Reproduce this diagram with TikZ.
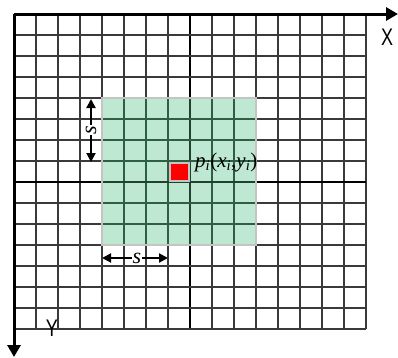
\documentclass[tikz,border=0pt]{standalone}
\usepackage{fontspec}
\setmainfont{Liberation Serif}
\newfontfamily\axfont{Liberation Sans}
\usetikzlibrary{arrows.meta}
\definecolor{gridc}{HTML}{3A3A3A}
\definecolor{greenfill}{HTML}{BEE8D2}
\definecolor{greenline}{HTML}{2F5F42}
\definecolor{bordergrey}{HTML}{C4C4C4}
\tikzset{
  gridline/.style={draw=gridc, line width=1.1},
  centerline/.style={draw=black, line width=1.9},
  gline/.style={draw=greenline, line width=1.1},
  gcenter/.style={draw=greenline!70!black, line width=1.9},
  axisline/.style={draw=black, line width=3, -{Triangle[length=12, width=13]}},
  sarrow/.style={draw=black, line width=2, {Triangle[length=9, width=9]}-{Triangle[length=9, width=9]}},
  slabel/.style={fill=white, inner sep=0.5, font=\fontsize{22}{22}\selectfont\itshape},
  axlabel/.style={inner sep=0, font=\axfont\fontsize{24}{24}\selectfont, xscale=0.75},
}
\begin{document}
\begin{tikzpicture}[x=1pt,y=-1pt]
\useasboundingbox (0,0) rectangle (398,357);
\fill[white] (0,0) rectangle (398,357);
% grid
\foreach \i in {1,...,16}{
  \ifnum\i=8 \draw[centerline] ({14+22*\i},14) -- ({14+22*\i},329);
  \else \draw[gridline] ({14+22*\i},14) -- ({14+22*\i},329); \fi
}
\foreach \j in {1,...,15}{
  \ifnum\j=8 \draw[centerline] (14,{14+21*\j}) -- (366,{14+21*\j});
  \else \draw[gridline] (14,{14+21*\j}) -- (366,{14+21*\j}); \fi
}
% green window
\fill[greenfill] (102,98) rectangle (256,245);
\foreach \i in {5,...,10}{
  \ifnum\i=8 \draw[gcenter] ({14+22*\i},98) -- ({14+22*\i},245);
  \else \draw[gline] ({14+22*\i},98) -- ({14+22*\i},245); \fi
}
\foreach \j in {5,...,10}{
  \ifnum\j=8 \draw[gcenter] (102,{14+21*\j}) -- (256,{14+21*\j});
  \else \draw[gline] (102,{14+21*\j}) -- (256,{14+21*\j}); \fi
}
\draw[draw=bordergrey, line width=2] (102,98) rectangle (256,245);
% red pixel
\node (pix) [draw=bordergrey, fill=red, line width=1.6, inner sep=0,
  minimum width=19, minimum height=18] at (179.5,172) {};
\node (plabel) [inner sep=0, anchor=west, font=\fontsize{21}{21}\selectfont]
  at (195,162) {\textit{p}\textsubscript{\textit{i}}(\textit{x}\textsubscript{\textit{i}},\textit{y}\textsubscript{\textit{i}})};
% axes
\coordinate (origin) at (14,14);
\coordinate (xend) at (398,14);
\coordinate (yend) at (14,357);
\draw[axisline] (origin) -- (xend);
\draw[axisline] (origin) -- (yend);
\node (xlab) [axlabel] at (387,37) {X};
\node (ylab) [axlabel] at (52,328) {Y};
% s arrows
\coordinate (vtop) at (91,99);
\coordinate (vbot) at (91,162);
\coordinate (hleft) at (102,258);
\coordinate (hright) at (168,258);
\draw[sarrow] (vtop) -- (vbot);
\draw[sarrow] (hleft) -- (hright);
\node (svert) [slabel, rotate=90] at (91,130) {s};
\node (shor) [slabel] at (137,258) {s};
\end{tikzpicture}
\end{document}
